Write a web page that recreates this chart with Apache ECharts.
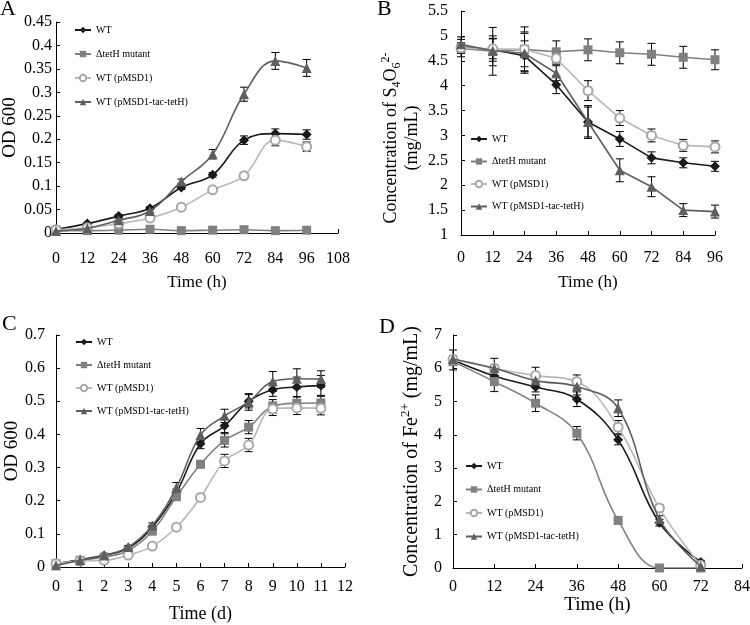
<!DOCTYPE html>
<html>
<head>
<meta charset="utf-8">
<script src="https://cdn.jsdelivr.net/npm/echarts@6/dist/echarts.min.js"></script>
<style>
  html, body { margin: 0; padding: 0; background: #fff; }
  #chart { width: 750px; height: 625px; }
</style>
</head>
<body>
<div id="chart"></div>
<script>
// --- Data ---

// A: OD600 vs time (h)
const timeA = [0, 12, 24, 36, 48, 60, 72, 84, 96];
const odA_WT  = [0.008, 0.02, 0.036, 0.053, 0.097, 0.124, 0.198, 0.212, 0.21];
const odA_Mut = [0.006, 0.005, 0.006, 0.008, 0.005, 0.006, 0.007, 0.005, 0.006];
const odA_P   = [0.007, 0.011, 0.02, 0.032, 0.055, 0.092, 0.122, 0.198, 0.184];
const odA_Tac = [0.004, 0.01, 0.027, 0.047, 0.11, 0.168, 0.296, 0.367, 0.352];
const errA_WT  = [0.002, 0.002, 0.003, 0.003, 0.004, 0.005, 0.009, 0.01, 0.01];
const errA_Mut = [0.001, 0.001, 0.001, 0.001, 0.001, 0.001, 0.001, 0.001, 0.001];
const errA_P   = [0.002, 0.002, 0.003, 0.003, 0.004, 0.004, 0.006, 0.012, 0.01];
const errA_Tac = [0.002, 0.002, 0.003, 0.003, 0.005, 0.01, 0.015, 0.018, 0.018];

// B: tetrathionate concentration vs time (h)
const timeB = [0, 12, 24, 36, 48, 60, 72, 84, 96];
const s4B_WT  = [4.78, 4.72, 4.6, 4.02, 3.27, 2.93, 2.55, 2.45, 2.38];
const s4B_Mut = [4.75, 4.69, 4.73, 4.68, 4.72, 4.66, 4.63, 4.57, 4.52];
const s4B_P   = [4.76, 4.74, 4.73, 4.55, 3.9, 3.35, 3.0, 2.8, 2.77];
const s4B_Tac = [4.83, 4.7, 4.65, 4.25, 3.27, 2.3, 1.97, 1.5, 1.47];
const errB_WT  = [0.2, 0.23, 0.3, 0.18, 0.33, 0.15, 0.12, 0.1, 0.1];
const errB_Mut = [0.1, 0.48, 0.45, 0.22, 0.22, 0.22, 0.22, 0.22, 0.2];
const errB_P   = [0.1, 0.2, 0.35, 0.12, 0.2, 0.15, 0.13, 0.12, 0.12];
const errB_Tac = [0.1, 0.3, 0.4, 0.15, 0.3, 0.23, 0.2, 0.13, 0.13];

// C: OD600 vs time (d)
const dayC = [0, 1, 2, 3, 4, 5, 6, 7, 8, 9, 10, 11];
const odC_WT  = [0.01, 0.022, 0.035, 0.057, 0.12, 0.225, 0.372, 0.426, 0.5, 0.535, 0.543, 0.548];
const odC_Mut = [0.01, 0.02, 0.03, 0.05, 0.108, 0.212, 0.31, 0.382, 0.422, 0.485, 0.494, 0.495];
const odC_P   = [0.01, 0.018, 0.02, 0.036, 0.063, 0.12, 0.21, 0.32, 0.368, 0.477, 0.48, 0.479];
const odC_Tac = [0.005, 0.02, 0.035, 0.06, 0.125, 0.24, 0.398, 0.456, 0.498, 0.56, 0.568, 0.567];
const errC_WT  = [0.003, 0.003, 0.004, 0.005, 0.006, 0.01, 0.015, 0.02, 0.02, 0.02, 0.03, 0.03];
const errC_Mut = [0.003, 0.003, 0.004, 0.005, 0.006, 0.01, 0.01, 0.02, 0.02, 0.02, 0.02, 0.02];
const errC_P   = [0.003, 0.003, 0.004, 0.005, 0.006, 0.008, 0.01, 0.02, 0.02, 0.02, 0.02, 0.02];
const errC_Tac = [0.003, 0.003, 0.004, 0.005, 0.008, 0.015, 0.02, 0.02, 0.025, 0.03, 0.03, 0.025];

// D: Fe2+ concentration vs time (h)
const timeD = [0, 12, 24, 36, 48, 60, 72];
const feD_WT  = [6.25, 5.77, 5.44, 5.07, 3.85, 1.36, 0.18];
const feD_Mut = [6.2, 5.6, 4.95, 4.05, 1.43, 0, 0];
const feD_P   = [6.27, 6.0, 5.78, 5.6, 4.23, 1.8, 0.08];
const feD_Tac = [6.28, 6.0, 5.63, 5.45, 4.8, 1.47, 0.05];
const errD_WT  = [0.3, 0.2, 0.15, 0.22, 0.15, 0.1, 0.05];
const errD_Mut = [0.1, 0.3, 0.25, 0.2, 0.05, 0, 0];
const errD_P   = [0.1, 0.1, 0.25, 0.2, 0.2, 0.1, 0.05];
const errD_Tac = [0.1, 0.3, 0.2, 0.25, 0.25, 0.1, 0.05];

const seriesNames = ['WT', '\u0394tetH mutant', 'WT (pMSD1)', 'WT (pMSD1-tac-tetH)'];

// --- Styles ---
const FONT = "'Times New Roman', 'Liberation Serif', serif";
const STYLES = [
    { color: '#1a1a1a', symbol: 'diamond', size: 10 },
    { color: '#808080', symbol: 'rect', size: 9 },
    { color: '#b8b8b8', symbol: 'emptyCircle', size: 9, marker: '#a8a8a8' },
    { color: '#5e5e5e', symbol: 'triangle', size: 10 }
];

const lineSeries = (idx, k, xs, ys, smooth) => {
    const st = STYLES[k];
    return {
        name: seriesNames[k],
        type: 'line',
        xAxisIndex: idx,
        yAxisIndex: idx,
        data: xs.map((x, i) => [x, ys[i]]),
        smooth: smooth,
        symbol: st.symbol,
        symbolSize: st.size,
        showAllSymbol: true,
        lineStyle: { color: st.color, width: 1.6 },
        itemStyle: { color: st.marker || st.color, borderWidth: st.symbol === 'emptyCircle' ? 1.2 : 0 },
        z: 3 + k,
        animation: false
    };
};

// vertical error bar with caps
const renderErr = (params, api) => {
    const x = api.value(0);
    const lo = api.coord([x, api.value(1)]);
    const hi = api.coord([x, api.value(2)]);
    const w = 4;
    const st = { stroke: '#000', lineWidth: 1 };
    return {
        type: 'group',
        children: [
            { type: 'line', shape: { x1: lo[0], y1: lo[1], x2: hi[0], y2: hi[1] }, style: st },
            { type: 'line', shape: { x1: lo[0] - w, y1: lo[1], x2: lo[0] + w, y2: lo[1] }, style: st },
            { type: 'line', shape: { x1: hi[0] - w, y1: hi[1], x2: hi[0] + w, y2: hi[1] }, style: st }
        ]
    };
};

const errSeries = (idx, k, xs, ys, errs) => ({
    type: 'custom',
    name: 'err' + idx + '_' + k,
    xAxisIndex: idx,
    yAxisIndex: idx,
    data: xs.map((x, i) => [x, ys[i] - errs[i], ys[i] + errs[i], errs[i]]).filter(d => d[3] > 0),
    encode: { x: 0, y: [1, 2] },
    renderItem: renderErr,
    silent: true,
    z: 2,
    animation: false
});

const panel = (idx, xs, groups, errs, smooth) => {
    const out = [];
    groups.forEach((ys, k) => out.push(errSeries(idx, k, xs, ys, errs[k])));
    groups.forEach((ys, k) => out.push(lineSeries(idx, k, xs, ys, smooth)));
    return out;
};

// --- Axes ---
const axisCommon = {
    axisLine: { lineStyle: { color: '#000', width: 1 } },
    axisTick: { show: true, inside: true, length: 4, lineStyle: { color: '#000' } },
    splitLine: { show: false }
};

const xAxis = (idx, min, max, interval, name, gap, margin, nameSize) => Object.assign({}, axisCommon, {
    type: 'value', gridIndex: idx, min, max, interval,
    name, nameLocation: 'middle', nameGap: gap,
    nameTextStyle: { color: '#000', fontFamily: FONT, fontSize: nameSize },
    axisLabel: { color: '#000', fontFamily: FONT, fontSize: 16, margin, hideOverlap: false }
});

const yAxis = (idx, min, max, interval, name, gap, margin, nameStyle) => Object.assign({}, axisCommon, {
    type: 'value', gridIndex: idx, min, max, interval,
    name, nameLocation: 'middle', nameGap: gap, nameRotate: 90,
    nameTextStyle: nameStyle,
    axisLabel: { color: '#000', fontFamily: FONT, fontSize: 16, margin, hideOverlap: false }
});

const legend = (left, top, gap) => ({
    data: seriesNames,
    orient: 'vertical',
    left, top,
    padding: 0,
    itemWidth: 16,
    itemHeight: 8,
    itemGap: gap,
    selectedMode: false,
    textStyle: { color: '#000', fontFamily: FONT, fontSize: 10, lineHeight: 14 }
});

const option = {
    backgroundColor: '#fff',
    animation: false,
    grid: [
        { left: 56, right: 412, top: 22, bottom: 392, outerBoundsMode: 'none' },
        { left: 461, right: 35, top: 11, bottom: 390, outerBoundsMode: 'none' },
        { left: 56, right: 405, top: 335, bottom: 58, outerBoundsMode: 'none' },
        { left: 453, right: 8, top: 335, bottom: 57, outerBoundsMode: 'none' }
    ],
    xAxis: [
        xAxis(0, 0, 108, 12, 'Time (h)', 41, 18, 17),
        xAxis(1, 0, 96, 12, 'Time (h)', 39, 15, 17),
        xAxis(2, 0, 12, 1, 'Time (d)', 38, 12, 18),
        xAxis(3, 0, 84, 12, 'Time (h)', 24, 11, 19)
    ],
    yAxis: [
        yAxis(0, 0, 0.45, 0.05, 'OD 600', 36, 4, { color: '#000', fontFamily: FONT, fontSize: 19 }),
        yAxis(1, 1, 5.5, 0.5,
            '{t|Concentration of S}{sub|4}{t|O}{sub|6}{sup|2-}\n{t|(mg/mL)}', 38, 13,
            {
                color: '#000', fontFamily: FONT, fontSize: 18, lineHeight: 21,
                padding: [0, 30, 0, 0],
                rich: {
                    t: { fontFamily: FONT, fontSize: 18, color: '#000' },
                    sub: { fontFamily: FONT, fontSize: 12, color: '#000', padding: [10, 0, 0, 0] },
                    sup: { fontFamily: FONT, fontSize: 12, color: '#000', padding: [0, 0, 12, 0] }
                }
            }),
        yAxis(2, 0, 0.7, 0.1, 'OD 600', 34, 11, { color: '#000', fontFamily: FONT, fontSize: 19 }),
        yAxis(3, 0, 7, 1,
            '{t|Concentration of Fe}{sup|2+}{t| (mg/mL)}', 29, 11,
            {
                color: '#000', fontFamily: FONT, fontSize: 20,
                rich: {
                    t: { fontFamily: FONT, fontSize: 20, color: '#000' },
                    sup: { fontFamily: FONT, fontSize: 13, color: '#000', padding: [0, 0, 12, 0] }
                }
            })
    ],
    legend: [
        legend(74, 23, 10),
        legend(470, 132, 8.5),
        legend(75, 335, 9),
        legend(465, 459, 9.5)
    ],
    graphic: [
        { type: 'text', left: 0, top: -2, style: { text: 'A', font: '22px ' + FONT, fill: '#000' } },
        { type: 'text', left: 377, top: -2, style: { text: 'B', font: '22px ' + FONT, fill: '#000' } },
        { type: 'text', left: 2, top: 313, style: { text: 'C', font: '22px ' + FONT, fill: '#000' } },
        { type: 'text', left: 379, top: 316, style: { text: 'D', font: '22px ' + FONT, fill: '#000' } }
    ],
    series: [].concat(
        panel(0, timeA, [odA_WT, odA_Mut, odA_P, odA_Tac], [errA_WT, errA_Mut, errA_P, errA_Tac], 0.4),
        panel(1, timeB, [s4B_WT, s4B_Mut, s4B_P, s4B_Tac], [errB_WT, errB_Mut, errB_P, errB_Tac], false),
        panel(2, dayC, [odC_WT, odC_Mut, odC_P, odC_Tac], [errC_WT, errC_Mut, errC_P, errC_Tac], 0.4),
        panel(3, timeD, [feD_WT, feD_Mut, feD_P, feD_Tac], [errD_WT, errD_Mut, errD_P, errD_Tac], 0.4)
    )
};

const chart = echarts.init(document.getElementById('chart'), null, { renderer: 'canvas' });
chart.setOption(option);
</script>
</body>
</html>
